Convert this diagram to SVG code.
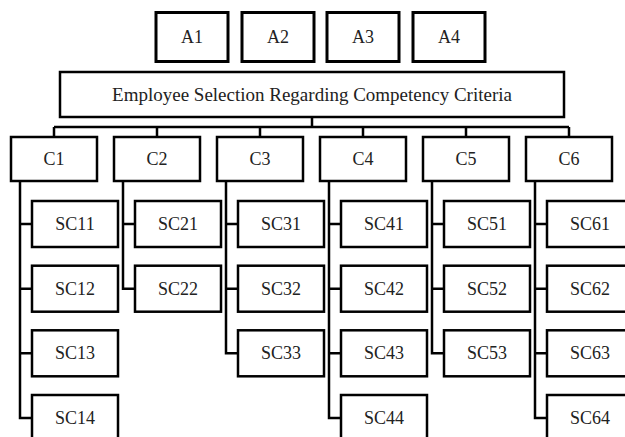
<svg xmlns="http://www.w3.org/2000/svg" width="625" height="437" viewBox="0 0 625 437">
<style>
.b{fill:#fff;stroke:#000;stroke-width:2.5}
.a{fill:#fff;stroke:#000;stroke-width:3}
.t{font-family:"Liberation Serif","Times New Roman",serif;font-size:18px;fill:#222;text-anchor:middle;dominant-baseline:central}
.c{fill:none;stroke:#000;stroke-width:2.5}
</style>
<rect width="625" height="437" fill="#fff"/>
<g id="connectors">
<path class="c" d="M312 117V127M54 127H569M54 127V137M157 127V137M260 127V137M363 127V137M466 127V137M569 127V137"/>
<path class="c" d="M20 181V418H32M20 224H32M20 288.7H32M20 353.3H32"/>
<path class="c" d="M123 181V288.7H135M123 224H135"/>
<path class="c" d="M226 181V353.3H238M226 224H238M226 288.7H238"/>
<path class="c" d="M329 181V418H341M329 224H341M329 288.7H341M329 353.3H341"/>
<path class="c" d="M432 181V353.3H444M432 224H444M432 288.7H444"/>
<path class="c" d="M535 181V418H547M535 224H547M535 288.7H547M535 353.3H547"/>
</g>
<g id="A1"><rect class="a" x="156" y="12.5" width="72" height="49"/><text class="t" x="192" y="37">A1</text></g>
<g id="A2"><rect class="a" x="242" y="12.5" width="72" height="49"/><text class="t" x="278" y="37">A2</text></g>
<g id="A3"><rect class="a" x="327" y="12.5" width="72" height="49"/><text class="t" x="363" y="37">A3</text></g>
<g id="A4"><rect class="a" x="413" y="12.5" width="72" height="49"/><text class="t" x="449" y="37">A4</text></g>
<g id="main"><rect class="b" x="60" y="72" width="504" height="45"/><text class="t" x="312" y="94.5" style="font-size:19px">Employee Selection Regarding Competency Criteria</text></g>
<g id="C1"><rect class="b" x="11" y="137" width="86" height="44"/><text class="t" x="54" y="159">C1</text></g>
<g id="C2"><rect class="b" x="114" y="137" width="86" height="44"/><text class="t" x="157" y="159">C2</text></g>
<g id="C3"><rect class="b" x="217" y="137" width="86" height="44"/><text class="t" x="260" y="159">C3</text></g>
<g id="C4"><rect class="b" x="320" y="137" width="86" height="44"/><text class="t" x="363" y="159">C4</text></g>
<g id="C5"><rect class="b" x="423" y="137" width="86" height="44"/><text class="t" x="466" y="159">C5</text></g>
<g id="C6"><rect class="b" x="526" y="137" width="86" height="44"/><text class="t" x="569" y="159">C6</text></g>
<g id="SC11"><rect class="b" x="32" y="201" width="86" height="46"/><text class="t" x="75" y="224">SC11</text></g>
<g id="SC12"><rect class="b" x="32" y="265.7" width="86" height="46"/><text class="t" x="75" y="288.7">SC12</text></g>
<g id="SC13"><rect class="b" x="32" y="330.3" width="86" height="46"/><text class="t" x="75" y="353.3">SC13</text></g>
<g id="SC14"><rect class="b" x="32" y="395" width="86" height="46"/><text class="t" x="75" y="418">SC14</text></g>
<g id="SC21"><rect class="b" x="135" y="201" width="86" height="46"/><text class="t" x="178" y="224">SC21</text></g>
<g id="SC22"><rect class="b" x="135" y="265.7" width="86" height="46"/><text class="t" x="178" y="288.7">SC22</text></g>
<g id="SC31"><rect class="b" x="238" y="201" width="86" height="46"/><text class="t" x="281" y="224">SC31</text></g>
<g id="SC32"><rect class="b" x="238" y="265.7" width="86" height="46"/><text class="t" x="281" y="288.7">SC32</text></g>
<g id="SC33"><rect class="b" x="238" y="330.3" width="86" height="46"/><text class="t" x="281" y="353.3">SC33</text></g>
<g id="SC41"><rect class="b" x="341" y="201" width="86" height="46"/><text class="t" x="384" y="224">SC41</text></g>
<g id="SC42"><rect class="b" x="341" y="265.7" width="86" height="46"/><text class="t" x="384" y="288.7">SC42</text></g>
<g id="SC43"><rect class="b" x="341" y="330.3" width="86" height="46"/><text class="t" x="384" y="353.3">SC43</text></g>
<g id="SC44"><rect class="b" x="341" y="395" width="86" height="46"/><text class="t" x="384" y="418">SC44</text></g>
<g id="SC51"><rect class="b" x="444" y="201" width="86" height="46"/><text class="t" x="487" y="224">SC51</text></g>
<g id="SC52"><rect class="b" x="444" y="265.7" width="86" height="46"/><text class="t" x="487" y="288.7">SC52</text></g>
<g id="SC53"><rect class="b" x="444" y="330.3" width="86" height="46"/><text class="t" x="487" y="353.3">SC53</text></g>
<g id="SC61"><rect class="b" x="547" y="201" width="86" height="46"/><text class="t" x="590" y="224">SC61</text></g>
<g id="SC62"><rect class="b" x="547" y="265.7" width="86" height="46"/><text class="t" x="590" y="288.7">SC62</text></g>
<g id="SC63"><rect class="b" x="547" y="330.3" width="86" height="46"/><text class="t" x="590" y="353.3">SC63</text></g>
<g id="SC64"><rect class="b" x="547" y="395" width="86" height="46"/><text class="t" x="590" y="418">SC64</text></g>
</svg>
